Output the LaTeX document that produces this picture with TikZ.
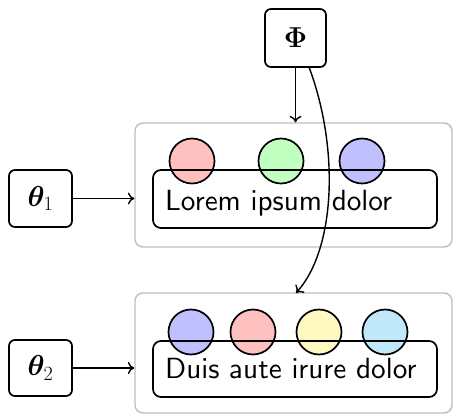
\RequirePackage{fix-cm}
\documentclass[tikz,border=0pt]{standalone}
\usepackage{amsmath,bm}
\usetikzlibrary{arrows.meta}
\definecolor{pinkfill}{RGB}{255,192,192}
\definecolor{mintfill}{RGB}{192,255,192}
\definecolor{lavfill}{RGB}{192,192,255}
\definecolor{creamfill}{RGB}{255,248,192}
\definecolor{skyfill}{RGB}{192,232,248}
\definecolor{framegray}{RGB}{190,190,190}
\newcommand{\bigtext}{\fontsize{28.8}{34}\selectfont}
\font\labelsans=cmss10 at 29.2pt
\begin{document}
\begin{tikzpicture}[x=1pt,y=-1pt,
  every node/.style={font=\bigtext},
  param/.style={draw,line width=1.7pt,rounded corners=6pt,inner sep=0pt},
  frame/.style={draw=framegray,line width=1.4pt,rounded corners=8pt,inner sep=0pt},
  strip/.style={draw,line width=1.7pt,rounded corners=8pt,inner sep=0pt},
  token/.style={circle,draw,line width=1.7pt,minimum size=45pt,inner sep=0pt},
  label text/.style={anchor=base west,inner sep=0pt,font=\labelsans},
  link/.style={-{To[length=6.5pt,width=12pt]},line width=1.4pt}]
\useasboundingbox (0,0) rectangle (453,414);

% shared parameter block
\node[param,minimum width=61pt,minimum height=58pt] (phi) at (295.5,38) {$\mathbf{\Phi}$};

% first group
\node[frame,minimum width=317pt,minimum height=124pt] (g1) at (293.5,185) {};
\node[token,fill=pinkfill] (c11) at (192,161) {};
\node[token,fill=mintfill] (c12) at (281,161) {};
\node[token,fill=lavfill] (c13) at (362,161) {};
\node[strip,minimum width=284pt,minimum height=58pt] (s1) at (295,199) {};
\node[label text] (t1) at (165,211) {Lorem ipsum dolor};
\node[param,minimum width=63pt,minimum height=57pt] (th1) at (40.5,198.5) {$\bm{\theta}_1$};

% second group
\node[frame,minimum width=317pt,minimum height=120pt] (g2) at (293.5,353) {};
\node[token,fill=lavfill] (c21) at (191,332) {};
\node[token,fill=pinkfill] (c22) at (253,332) {};
\node[token,fill=creamfill] (c23) at (319,332) {};
\node[token,fill=skyfill] (c24) at (385,332) {};
\node[strip,minimum width=284pt,minimum height=56pt] (s2) at (295,369) {};
\node[label text] (t2) at (165,378) {Duis aute irure dolor};
\node[param,minimum width=63pt,minimum height=56pt] (th2) at (40.5,368) {$\bm{\theta}_2$};

% connectors
\draw[link] (th1.east) -- (th1.east -| g1.west);
\draw[link] (th2.east) -- (th2.east -| g2.west);
\draw[link] (phi.south) -- (g1.north -| phi.south);
\coordinate (curvestart) at (309,67);
\coordinate (curveend) at (296,293);
\draw[link] (curvestart) .. controls (340,150) and (335,250) .. (curveend);
\end{tikzpicture}
\end{document}
